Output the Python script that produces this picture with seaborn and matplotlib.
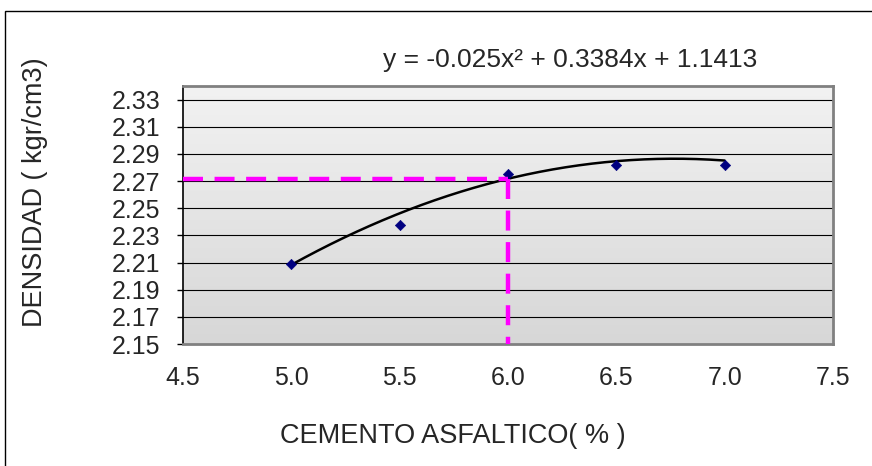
import numpy as np
import pandas as pd
import matplotlib
matplotlib.use("Agg")
import matplotlib.pyplot as plt
from matplotlib.patches import Rectangle
import seaborn as sns

# Measured density for each asphalt cement content
cemento = [5.0, 5.5, 6.0, 6.5, 7.0]
densidad = [2.209, 2.238, 2.2755, 2.282, 2.282]

# Quadratic trend line coefficients (a*x^2 + b*x + c)
coef = [-0.025, 0.3384, 1.1413]
contenido_optimo = 6.0

x_ticks = [4.5, 5.0, 5.5, 6.0, 6.5, 7.0, 7.5]
y_ticks = [2.15, 2.17, 2.19, 2.21, 2.23, 2.25, 2.27, 2.29, 2.31, 2.33]

sns.set_style("white")
plt.rcParams["font.family"] = ["Liberation Sans", "DejaVu Sans"]

fig = plt.figure(figsize=(8.72, 4.66), dpi=100)
ax = fig.add_axes([183 / 872, 1 - 344 / 466, (833 - 183) / 872, (344 - 86) / 466])

# Outer chart frame
fig.patches.append(Rectangle((5 / 872, -0.1), 1.2, 1 - 11 / 466 + 0.1,
                             transform=fig.transFigure, fill=False,
                             edgecolor="black", linewidth=1.0, zorder=0))

# Plot area gradient fill
grad = np.linspace(0, 1, 256).reshape(-1, 1)
cmap = matplotlib.colors.LinearSegmentedColormap.from_list("g", ["#d7d7d7", "#f2f2f2"])
ax.imshow(grad, cmap=cmap, aspect="auto", origin="lower",
          extent=[0, 1, 0, 1], transform=ax.transAxes, zorder=0)

ax.set_xlim(4.5, 7.5)
ax.set_ylim(2.15, 2.34)

for yv in y_ticks[1:]:
    ax.axhline(yv, color="black", linewidth=0.8, zorder=1)

# Trend curve from the fitted equation
xc = np.linspace(cemento[0], cemento[-1], 200)
yc = np.polyval(coef, xc)
sns.lineplot(x=xc, y=yc, ax=ax, color="black", linewidth=1.8, zorder=3, sort=False)

# Data points
df = pd.DataFrame({"cemento": cemento, "densidad": densidad})
sns.scatterplot(data=df, x="cemento", y="densidad", ax=ax, marker="D",
                color="#000080", s=28, edgecolor="#000080", zorder=4)

# Optimum content guide lines
y_opt = np.polyval(coef, contenido_optimo)
ax.plot([4.5, contenido_optimo], [y_opt, y_opt], color="#ff00ff", linewidth=3.2,
        linestyle=(0, (4.5, 2.6)), zorder=5)
ax.plot([contenido_optimo, contenido_optimo], [y_opt, 2.15], color="#ff00ff",
        linewidth=3.2, linestyle=(0, (4.5, 2.6)), zorder=5)

ax.set_xticks(x_ticks)
ax.set_xticklabels([f"{v:.1f}" for v in x_ticks])
ax.set_yticks(y_ticks)
ax.set_yticklabels([f"{v:.2f}" for v in y_ticks])
ax.tick_params(axis="y", length=4, width=1, color="black", labelsize=18, pad=12.5, direction="out", left=True)
ax.tick_params(axis="x", length=0, labelsize=18, pad=16)

for side in ["top", "right", "bottom"]:
    ax.spines[side].set_visible(True)
    ax.spines[side].set_color("#808080")
    ax.spines[side].set_linewidth(2)
ax.spines["left"].set_color("black")
ax.spines["left"].set_linewidth(1.2)

ax.set_xlabel("CEMENTO ASFALTICO( % )", fontsize=19.5, va="center")
ax.xaxis.set_label_coords((453 - 183) / 650, (344 - 436) / 258)
ax.set_ylabel("DENSIDAD ( kgr/cm3)", fontsize=19.5, va="center")
ax.yaxis.set_label_coords((35 - 183) / 650, (344 - 192) / 258)

fig.text(570 / 872, 1 - 60 / 466, "y = -0.025x² + 0.3384x + 1.1413",
         fontsize=19, ha="center", va="center")

fig.savefig("out.png", dpi=100)
